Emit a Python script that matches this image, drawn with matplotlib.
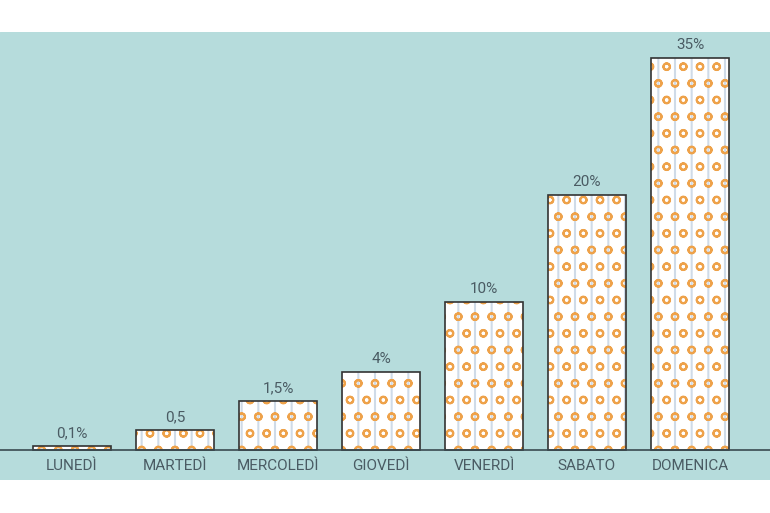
import matplotlib.pyplot as plt
import matplotlib as mpl

# dati
giorni = ["LUNEDÌ", "MARTEDÌ", "MERCOLEDÌ", "GIOVEDÌ", "VENERDÌ", "SABATO", "DOMENICA"]
etichette = ["0,1%", "0,5", "1,5%", "4%", "10%", "20%", "35%"]
# altezza delle barre come disegnata (scala non lineare)
altezze = [4, 20, 49, 78, 148, 255, 392]

teal = "#b6dcdc"
testo = "#4a5b63"
arancio = "#eea24a"
linee = "#cfdbe8"

plt.rcParams["font.family"] = ["Roboto", "DejaVu Sans"]
mpl.rcParams["hatch.linewidth"] = 1.5

fig = plt.figure(figsize=(7.7, 5.13), dpi=100)
ax = fig.add_axes([0, 33 / 513, 1, 448 / 513])
ax.set_facecolor(teal)

x = list(range(len(giorni)))
w = 78 / 103

ax.bar(x, altezze, width=w, color="white", edgecolor=linee, hatch="|", linewidth=0)
ax.bar(x, altezze, width=w, color="none", edgecolor=arancio, hatch="o", linewidth=0)
ax.bar(x, altezze, width=w, color="none", edgecolor="#333333", linewidth=1.2)

for xi, h, lab in zip(x, altezze, etichette):
    ax.text(xi, h + 6, lab, ha="center", va="bottom", fontsize=11, color=testo)

for xi, g in zip(x, giorni):
    ax.text(xi, -16, g, ha="center", va="center", fontsize=11, color=testo)

ax.axhline(0, color="#3a4a50", linewidth=1.2)

ax.set_xlim(-72 / 103, -72 / 103 + 770 / 103)
ax.set_ylim(-30, 418)
ax.axis("off")
ax.add_patch(plt.Rectangle((0, 0), 1, 1, transform=ax.transAxes, color=teal, zorder=-1))

fig.savefig("out.png", dpi=100, facecolor="white")
